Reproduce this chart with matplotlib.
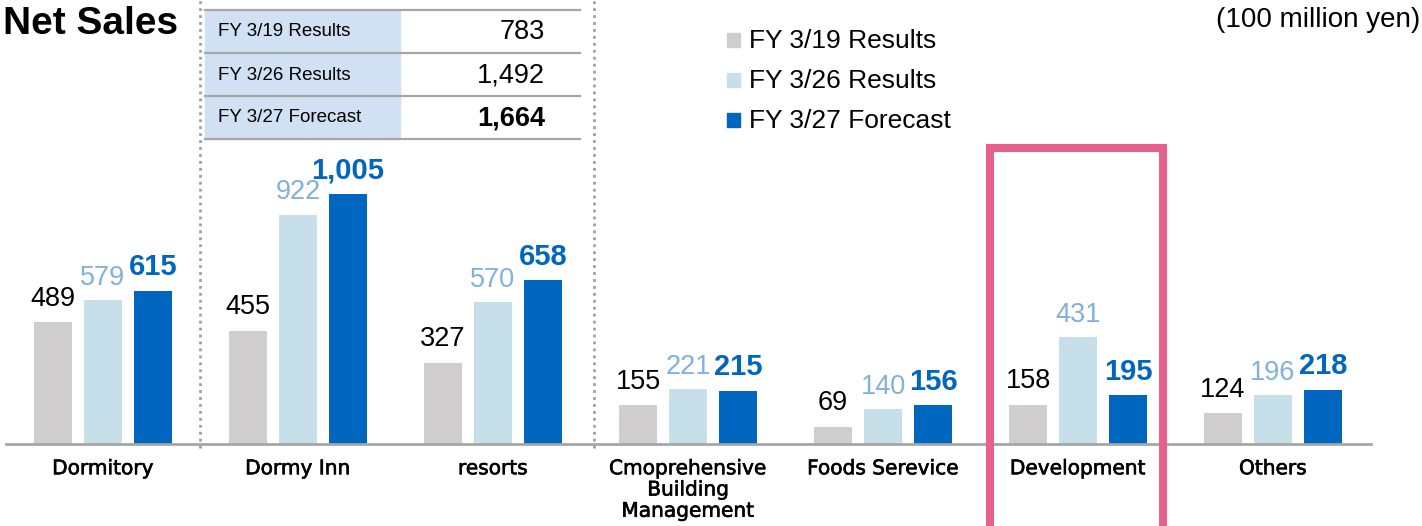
import matplotlib.pyplot as plt
from matplotlib.patches import Rectangle
import matplotlib.patheffects as pe
import numpy as np

# data (100 million yen)
categories = ['Dormitory', 'Dormy Inn', 'resorts', 'Cmoprehensive\nBuilding\nManagement',
              'Foods Serevice', 'Development', 'Others']
fy19 = [489, 455, 327, 155, 69, 158, 124]
fy26 = [579, 922, 570, 221, 140, 431, 196]
fy27 = [615, 1005, 658, 215, 156, 195, 218]
series_names = ['FY 3/19 Results', 'FY 3/26 Results', 'FY 3/27 Forecast']
totals = ['783', '1,492', '1,664']

c_gray = '#CFCDCD'
c_light = '#C6DFE9'
c_blue = '#0066C0'
c_label_light = '#7FB0DE'
c_pink = '#E8608D'

W, H = 1422, 526
fig = plt.figure(figsize=(W / 100, H / 100), dpi=100)
plt.rcParams['font.family'] = ['Liberation Sans', 'DejaVu Sans']


def fx(px):
    return px / W


def fy(py):
    return 1 - py / H


base_px = 444
ax = fig.add_axes([fx(5.5), fy(base_px), (1365) / W, base_px / H])
ax.set_xlim(-0.5, 6.5)
ax.set_ylim(0, base_px / 0.2488)

x = np.arange(len(categories))
off = 50 / 195
bw = 38 / 195
ax.bar(x - off, fy19, bw, color=c_gray, zorder=2)
ax.bar(x, fy26, bw, color=c_light, zorder=2)
ax.bar(x + off, fy27, bw, color=c_blue, zorder=2)

for i in range(len(categories)):
    ax.annotate(str(fy19[i]), (x[i] - off, fy19[i]), xytext=(0, 17), textcoords='offset points',
                ha='center', va='center', fontsize=19.5, color='black')
    ax.annotate(str(fy26[i]), (x[i], fy26[i]), xytext=(0, 16), textcoords='offset points',
                ha='center', va='center', fontsize=19.5, color=c_label_light)
    ax.annotate(f'{fy27[i]:,}', (x[i] + off, fy27[i]), xytext=(0, 17), textcoords='offset points',
                ha='center', va='center', fontsize=21, color=c_blue, fontweight='bold')

for s in ['top', 'right', 'left']:
    ax.spines[s].set_visible(False)
ax.spines['bottom'].set_color('#A6A6A6')
ax.spines['bottom'].set_linewidth(2)
ax.spines['bottom'].set_zorder(3)
ax.set_yticks([])
ax.set_xticks(x)
ax.set_xticklabels(categories, fontsize=14.5, family='DejaVu Sans', linespacing=1.15)
for t in ax.get_xticklabels():
    t.set_path_effects([pe.withStroke(linewidth=0.45, foreground='black')])
ax.tick_params(axis='x', length=0, pad=11)

# dotted separators
for xs in [0.497, 2.52]:
    ax.axvline(xs, ymin=-0.01, ymax=1, color='#A0A0A0', ls=(0, (1, 1.5)), lw=2,
               clip_on=False, zorder=1)

# pink highlight frame around Development
ytop = (base_px - 148) / 0.2488
ax.plot([4.551, 4.551, 5.438, 5.438], [-400, ytop, ytop, -400], color=c_pink, lw=5.8,
        solid_joinstyle='miter', clip_on=False, zorder=4)

# title and unit
fig.text(fx(178), fy(34), 'Net Sales', ha='right', va='baseline', fontsize=28,
         fontweight='bold')
fig.text(fx(1420), fy(20), '(100 million yen)', ha='right', va='center', fontsize=20)

# legend
legend_colors = [c_gray, c_light, c_blue]
for k, (name, col) in enumerate(zip(series_names, legend_colors)):
    yc = 40 + 40 * k
    fig.patches.append(Rectangle((fx(727), fy(yc + 7)), 13 / W, 14 / H, color=col,
                                 transform=fig.transFigure))
    fig.text(fx(749), fy(yc + 1), name, ha='left', va='center', fontsize=19)

# totals table
fig.patches.append(Rectangle((fx(205), fy(139)), (400 - 205) / W, (139 - 10) / H,
                             color='#CFE1F2', transform=fig.transFigure, zorder=0))
for yl in [10, 53, 96, 139]:
    fig.add_artist(plt.Line2D([fx(205), fx(580)], [fy(yl), fy(yl)], color='#A6A6A6',
                              lw=1.6, transform=fig.transFigure))
for k, (name, tot) in enumerate(zip(series_names, totals)):
    yc = 32 + 43 * k
    fig.text(fx(218), fy(yc), name, ha='left', va='center', fontsize=13.5)
    fig.text(fx(545), fy(yc), tot, ha='right', va='center', fontsize=19.5,
             fontweight='bold' if k == 2 else 'normal')

fig.savefig('out.png', dpi=100)
